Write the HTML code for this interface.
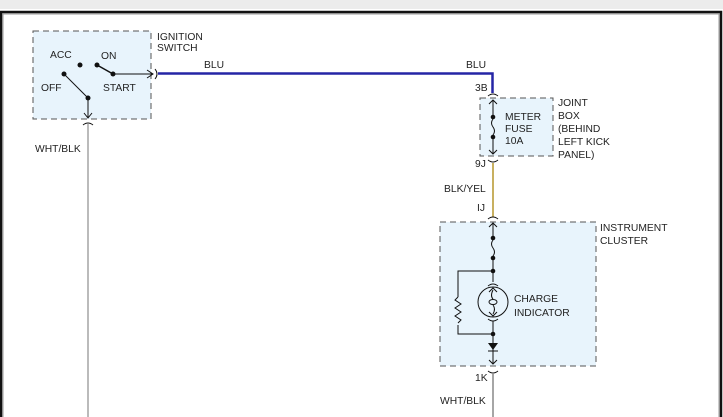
<!DOCTYPE html>
<html><head><style>
body{margin:0;width:723px;height:417px;overflow:hidden;background:#fff;font-family:"Liberation Sans",sans-serif}
svg{display:block}
text{font-family:"Liberation Sans",sans-serif;font-size:10.3px;fill:#222}
</style></head><body>
<svg width="723" height="417" viewBox="0 0 723 417">
<rect x="0" y="0" width="723" height="9" fill="#ececec"/>
<path d="M1 417 V12 H721 V417" fill="none" stroke="#111" stroke-width="2.5"/>
<path d="M3 417 V14 H719 V417" fill="none" stroke="#999" stroke-width="1"/>
<!-- ignition switch -->
<rect x="33" y="31" width="118" height="88" fill="#e8f4fc" stroke="#555" stroke-dasharray="6,4"/>
<text x="157" y="40">IGNITION</text><text x="157" y="51">SWITCH</text>
<text x="50" y="58">ACC</text><text x="101" y="59">ON</text>
<text x="41" y="91">OFF</text><text x="103" y="91">START</text>
<circle cx="80" cy="65" r="2.5" fill="#111"/>
<circle cx="97" cy="65" r="2.5" fill="#111"/>
<circle cx="113" cy="74" r="2.5" fill="#111"/>
<circle cx="64" cy="74" r="2.5" fill="#111"/>
<circle cx="88" cy="98" r="2.5" fill="#111"/>
<line x1="97" y1="65" x2="113" y2="74" stroke="#111" stroke-width="1.5"/>
<line x1="64" y1="74" x2="88" y2="98" stroke="#111"/>
<line x1="113" y1="74" x2="153" y2="74" stroke="#111"/>
<path d="M147 70 L153 74 L147 78" fill="none" stroke="#111"/>
<path d="M155 69 Q159 74 155 79" fill="none" stroke="#111"/>
<line x1="88" y1="98" x2="88" y2="118" stroke="#111"/>
<path d="M84 113 L88 118 L92 113" fill="none" stroke="#111"/>
<path d="M83 125 Q88 121 93 125" fill="none" stroke="#111"/>
<line x1="88" y1="124" x2="88" y2="417" stroke="#bbb" stroke-width="2"/>
<text x="35" y="152">WHT/BLK</text>
<!-- BLU wire -->
<path d="M158 73.5 H492.5 V93" fill="none" stroke="#2525a5" stroke-width="2.5"/>
<text x="204" y="68">BLU</text><text x="466" y="68">BLU</text>
<text x="475" y="91">3B</text>
<!-- joint box -->
<rect x="480" y="98" width="73" height="58" fill="#e8f4fc" stroke="#555" stroke-dasharray="6,4"/>
<path d="M488 96 Q493 92 498 96" fill="none" stroke="#111"/>
<path d="M489 104 L493 100 L497 104" fill="none" stroke="#111"/>
<line x1="493" y1="100" x2="493" y2="117" stroke="#111"/>
<line x1="493" y1="137" x2="493" y2="154" stroke="#111"/>
<path d="M489 150 L493 154 L497 150" fill="none" stroke="#111"/>
<circle cx="493" cy="117" r="2.3" fill="#111"/><circle cx="493" cy="137" r="2.3" fill="#111"/>
<path d="M493 119 q-3 4 0 8 q3 4 0 8" fill="none" stroke="#111"/>
<text x="505" y="120">METER</text><text x="505" y="132">FUSE</text><text x="505" y="144">10A</text>
<text x="558" y="106">JOINT</text><text x="558" y="119">BOX</text><text x="558" y="132">(BEHIND</text><text x="558" y="145">LEFT KICK</text><text x="558" y="158">PANEL)</text>
<text x="475" y="167">9J</text>
<path d="M488 160 Q493 164 498 160" fill="none" stroke="#111"/>
<line x1="493" y1="163" x2="493" y2="217" stroke="#c8b060" stroke-width="2"/>
<text x="444" y="192">BLK/YEL</text>
<text x="477" y="211">IJ</text>
<!-- instrument cluster -->
<rect x="440" y="222" width="156" height="144" fill="#e8f4fc" stroke="#555" stroke-dasharray="6,4"/>
<text x="600" y="231">INSTRUMENT</text><text x="600" y="244">CLUSTER</text>
<path d="M488 219 Q493 215 498 219" fill="none" stroke="#111"/>
<path d="M489 227 L493 223 L497 227" fill="none" stroke="#111"/>
<line x1="493" y1="223" x2="493" y2="238" stroke="#111"/>
<circle cx="493" cy="238" r="2.3" fill="#111"/>
<path d="M493 240 q-3 4 0 8 q3 4 0 8" fill="none" stroke="#111"/>
<circle cx="493" cy="258" r="2.3" fill="#111"/>
<line x1="493" y1="258" x2="493" y2="282" stroke="#111"/>
<circle cx="493" cy="271" r="2.3" fill="#111"/>
<path d="M493 271 H458 V297" fill="none" stroke="#111"/>
<path d="M458 297 l-3 3 l6 4 l-6 4 l6 4 l-6 4 l6 4 l-3 3" fill="none" stroke="#111"/>
<path d="M458 325 V334 H493" fill="none" stroke="#111"/>
<path d="M488 286 Q493 282 498 286" fill="none" stroke="#111"/>
<circle cx="493" cy="302" r="15" fill="none" stroke="#111"/>
<path d="M489 292 L493 288 L497 292" fill="none" stroke="#111"/>
<ellipse cx="493" cy="302" rx="4" ry="2.5" fill="none" stroke="#111"/>
<path d="M493 290 q-3 6 0 9 M493 305 q3 4 0 9" fill="none" stroke="#111"/>
<path d="M489 312 L493 316 L497 312" fill="none" stroke="#111"/>
<path d="M488 319 Q493 323 498 319" fill="none" stroke="#111"/>
<line x1="493" y1="321" x2="493" y2="364" stroke="#111"/>
<circle cx="493" cy="334" r="2.3" fill="#111"/>
<path d="M488 343 H498 L493 350 Z" fill="#111"/>
<line x1="488" y1="351" x2="498" y2="351" stroke="#111"/>
<path d="M489 360 L493 364 L497 360" fill="none" stroke="#111"/>
<text x="514" y="302">CHARGE</text><text x="514" y="316">INDICATOR</text>
<path d="M488 371 Q493 375 498 371" fill="none" stroke="#111"/>
<text x="475" y="381">1K</text>
<line x1="493" y1="373" x2="493" y2="417" stroke="#888" stroke-width="1.5"/>
<text x="440" y="404">WHT/BLK</text>
</svg>
</body></html>
